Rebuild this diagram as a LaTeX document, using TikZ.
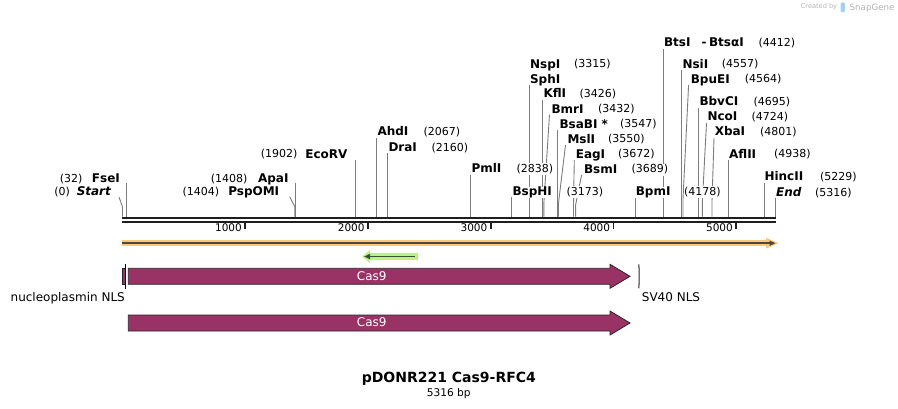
\documentclass[tikz,border=0pt]{standalone}
\usepackage{fontspec}
\setmainfont{DejaVu Sans}
\usetikzlibrary{arrows.meta}
\definecolor{cutgray}{RGB}{125,125,125}
\definecolor{bbone}{RGB}{30,30,30}
\definecolor{featorange}{RGB}{250,200,120}
\definecolor{featdark}{RGB}{75,72,65}
\definecolor{primgreen}{RGB}{185,245,125}
\definecolor{primdark}{RGB}{60,80,55}
\definecolor{casfill}{RGB}{153,51,102}
\definecolor{casline}{RGB}{45,35,40}
\definecolor{wmgray}{RGB}{180,180,180}
\definecolor{wmblue}{RGB}{165,208,240}

% connectors: vertical and kinked
\newcommand\cutv[3]{%
  \coordinate (s-#1) at (#2,216.7);
  \coordinate (t-#1) at (#2,#3);
  \draw[cut] (s-#1) -- (t-#1);}
\newcommand\cutk[5]{%
  \coordinate (s-#1) at (#2,216.7);
  \coordinate (k-#1) at (#2,#3);
  \coordinate (t-#1) at (#4,#5);
  \draw[cut] (s-#1) -- (k-#1) -- (t-#1);}
% right-side label: id, name x, center y, name, number x, number
\newcommand\rlab[6]{%
  \node[nm, anchor=base west] (l-#1) at (#2,#3+4) {#4};
  \node[num, anchor=base west] (n-#1) at (#5,#3+3.8) {#6};}
% left-side label: id, name right x, center y, name, number right x, number
\newcommand\llab[6]{%
  \node[nm, anchor=base east] (l-#1) at (#2,#3+4) {#4};
  \node[num, anchor=base east] (n-#1) at (#5,#3+3.8) {#6};}

\begin{document}
\begin{tikzpicture}[x=1pt,y=-1pt,
  nm/.style={font=\fontsize{12}{14}\selectfont\bfseries, inner xsep=0.6pt, inner ysep=0.5pt, fill=white, text height=8.6pt, text depth=2.2pt},
  num/.style={font=\fontsize{11}{13}\selectfont, inner xsep=0.6pt, inner ysep=0.5pt, fill=white, text height=8.6pt, text depth=2.2pt},
  cut/.style={draw=cutgray, line width=0.9pt},
  ticklab/.style={font=\fontsize{10.5}{12}\selectfont, inner sep=0pt, anchor=base east},
  featlab/.style={font=\fontsize{12}{14}\selectfont, inner sep=0pt},
  casarrow/.style={fill=casfill, draw=casline, line width=0.8pt, line join=miter}]

\fill[white] (0,0) rectangle (898,408);
\useasboundingbox (0,0) rectangle (898,408);

% ---------- cut-site connectors ----------
\cutk{Start}{122.5}{207}{119}{197}
\cutv{FseI}{126.4}{183.3}
\cutk{PspOMI}{294.9}{207}{289.7}{196.7}
\cutv{ApaI}{295.4}{183.3}
\cutv{EcoRV}{355.9}{160}
\cutv{AhdI}{376.5}{138.3}
\cutv{DraI}{387.6}{153.3}
\cutv{PmlI}{470.8}{175}
\cutv{BspHI}{511.9}{197}
\cutv{NspI}{529.5}{85}
\cutv{KflI}{542.9}{100}
\cutk{BmrI}{543.8}{204}{549.5}{114.5}
\cutv{BsaBI}{557.9}{130}
\cutk{MslI}{558.4}{204}{565.5}{145}
\cutk{EagI}{573.5}{205}{574.3}{160}
\cutk{BsmI}{575.6}{205}{581.6}{175}
\cutv{BpmI}{635}{197.5}
\cutv{BtsI}{663.5}{49}
\cutv{NsiI}{681.8}{70}
\cutk{BpuEI}{683}{199}{688.6}{85}
\cutv{BbvCI}{698.9}{108}
\cutk{NcoI}{702.4}{201}{706.5}{123}
\cutk{XbaI}{712}{201}{714}{138}
\cutv{AflII}{728.5}{160}
\cutv{HincII}{764}{183}
\cutv{End}{775.3}{197.5}

% ---------- backbone ----------
\draw[draw=bbone, line width=2.6pt] (122.2,218) -- (775.6,218);
\draw[draw=bbone, line width=2pt] (122.2,221.7) -- (775.6,221.7);
\foreach \k/\lab in {1/1000,2/2000,3/3000,4/4000,5/5000}{
  \draw[draw=bbone, line width=1.6pt] (122.5+122.75*\k,222) -- (122.5+122.75*\k,229);
  \node[ticklab] (tick\k) at (122.5+122.75*\k-3.2,231.7) {\lab};
}

% ---------- labels ----------
\llab{Start}{111.7}{191.7}{\itshape Start}{70.7}{(0)}
\llab{FseI}{120.7}{178.3}{FseI}{83.3}{(32)}
\llab{PspOMI}{280}{191.7}{PspOMI}{220}{(1404)}
\llab{ApaI}{289.3}{178.3}{ApaI}{248.3}{(1408)}
\llab{EcoRV}{348.3}{154}{EcoRV}{298.3}{(1902)}

\rlab{AhdI}{376.7}{131.7}{AhdI}{422.7}{(2067)}
\rlab{DraI}{387.7}{147.3}{DraI}{430.7}{(2160)}
\rlab{PmlI}{470.7}{168.3}{PmlI}{515.7}{(2838)}
\rlab{BspHI}{511.7}{191.7}{BspHI}{565.7}{(3173)}
\rlab{NspI}{529.3}{64}{NspI}{573.3}{(3315)}
\node[nm, anchor=base west] (l-SphI) at (529.3,83) {SphI};
\rlab{KflI}{542.7}{93.3}{KflI}{578.7}{(3426)}
\rlab{BmrI}{550.7}{109}{BmrI}{597.3}{(3432)}
\rlab{BsaBI}{558.7}{124}{BsaBI *}{619.3}{(3547)}
\rlab{MslI}{566.7}{139}{MslI}{607.3}{(3550)}
\rlab{EagI}{575}{154}{EagI}{617.3}{(3672)}
\rlab{BsmI}{583.3}{169}{BsmI}{630.7}{(3689)}
\rlab{BpmI}{635}{191.7}{BpmI}{683.3}{(4178)}
\rlab{BtsI}{663.3}{42.3}{BtsI\hspace{11pt}-\hspace{2.5pt}BtsαI}{757.7}{(4412)}
\rlab{NsiI}{681.7}{64}{NsiI}{721}{(4557)}
\rlab{BpuEI}{690}{79}{BpuEI}{744}{(4564)}
\rlab{BbvCI}{698.7}{101.7}{BbvCI}{752.7}{(4695)}
\rlab{NcoI}{706.7}{116.7}{NcoI}{750.7}{(4724)}
\rlab{XbaI}{714}{131.7}{XbaI}{759.3}{(4801)}
\rlab{AflII}{728.3}{154}{AflII}{773.3}{(4938)}
\rlab{HincII}{763.7}{176.7}{HincII}{819.3}{(5229)}
\rlab{End}{775.3}{192.3}{\itshape End}{814.3}{(5316)}

% ---------- orange feature (full length) ----------
\fill[featorange] (121.5,240.4) rectangle (770,246);
\fill[featorange] (766,237.8) -- (778.5,243.2) -- (766,248.6) -- cycle;
\coordinate (o-start) at (122,243.2);
\coordinate (o-end) at (775.5,243.2);
\draw[draw=featdark, line width=1.8pt, -{Triangle[length=6pt,width=5pt]}] (o-start) -- (o-end);

% ---------- primer ----------
\fill[primgreen] (368,253) rectangle (417.5,260);
\fill[primgreen] (370,250) -- (362.3,256.5) -- (370,263) -- cycle;
\coordinate (p-start) at (415,256.5);
\coordinate (p-end) at (364,256.5);
\draw[draw=primdark, line width=1.8pt, -{Triangle[length=6pt,width=5pt]}] (p-start) -- (p-end);

% ---------- features row 1 ----------
\draw[casarrow] (128.3,268.3) -- (610,268.3) -- (610,264.3) -- (630,276.3) -- (610,288.3) -- (610,284.3) -- (128.3,284.3) -- cycle;
\node[featlab, text=white, anchor=base] (cas1) at (371.7,280.3) {Cas9};
\draw[casarrow] (122.2,268.3) rectangle (125.2,284.3);
\draw[draw=black, line width=1pt] (125.9,263.5) -- (125.9,288.5);
\node[featlab, anchor=base east] (nlsL) at (125,301.7) {nucleoplasmin NLS};
\draw[draw=casline, line width=1pt] (638.8,264.3) .. controls (639.3,270) and (639.3,282) .. (638.8,288.3);
\node[featlab, anchor=base west] (nlsR) at (641.7,301.7) {SV40 NLS};

% ---------- features row 2 ----------
\draw[casarrow] (128.3,315) -- (610,315) -- (610,311) -- (630,323) -- (610,335) -- (610,331) -- (128.3,331) -- cycle;
\node[featlab, text=white, anchor=base] (cas2) at (371.7,326.8) {Cas9};

% ---------- title ----------
\node[font=\fontsize{14}{16}\selectfont\bfseries, inner sep=0pt, anchor=base] (title) at (448.8,382.7) {pDONR221 Cas9-RFC4};
\node[font=\fontsize{10.6}{12}\selectfont, inner sep=0pt, anchor=base] (size) at (448.7,396) {5316 bp};

% ---------- watermark ----------
\node[font=\fontsize{6.6}{8}\selectfont, text=wmgray, inner sep=0pt] (wm1) at (819,6.8) {Created by};
\fill[wmblue, rounded corners=1.5pt] (840.5,2.3) rectangle (845,12.3);
\node[font=\fontsize{8.7}{10}\selectfont, text=wmgray, inner sep=0pt, anchor=base west] (wm2) at (849.5,10.3) {SnapGene};
\end{tikzpicture}
\end{document}
